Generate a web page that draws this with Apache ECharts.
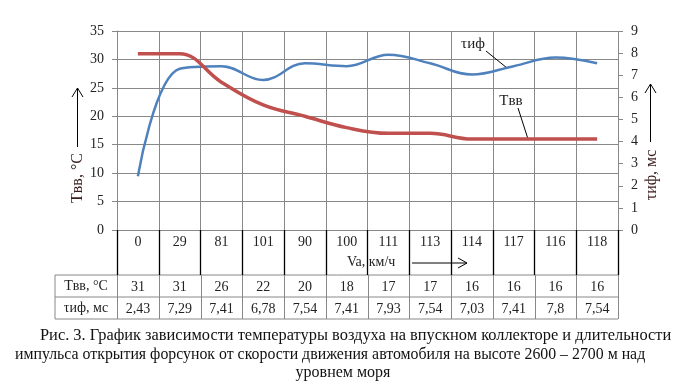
<!DOCTYPE html>
<html><head><meta charset="utf-8">
<script src="https://cdn.jsdelivr.net/npm/echarts@6/dist/echarts.min.js"></script>
<style>html,body{margin:0;padding:0;background:#fff}#c{width:687px;height:384px}</style>
</head><body><div id="c"></div>
<script>
const categories = ['0','29','81','101','90','100','111','113','114','117','116','118'];
const tempValues = [31,31,26,22,20,18,17,17,16,16,16,16];
const pulseValues = [2.43,7.29,7.41,6.78,7.54,7.41,7.93,7.54,7.03,7.41,7.8,7.54];
const leftTicks = [0,5,10,15,20,25,30,35];
const rightTicks = [0,1,2,3,4,5,6,7,8,9];
const rowHeaders = ['Tвв, °C','τиф, мс'];
const captionLines = [
  'Рис. 3. График зависимости температуры воздуха на впускном коллекторе и длительности',
  'импульса открытия форсунок от скорости движения автомобиля на высоте 2600 – 2700 м над',
  'уровнем моря'
];

const FONT = '"Liberation Serif", "DejaVu Serif", serif';
const chart = echarts.init(document.getElementById('c'));
const option = {
  animation: false,
  backgroundColor: '#fff',
  grid: { left: 117, top: 31, width: 501, height: 199 },
  xAxis: {
    type: 'category', data: categories, boundaryGap: true,
    axisLine: { show: true, lineStyle: { color: '#888', width: 1 } },
    axisTick: { show: true, interval: 0, length: 45, lineStyle: { color: '#000', width: 1.3 } },
    axisLabel: { interval: 0, margin: 5, fontFamily: FONT, fontSize: 14, color: '#222' },
    splitLine: { show: true, interval: 0, lineStyle: { color: '#888', width: 1 } }
  },
  yAxis: [
    { type: 'value', min: leftTicks[0], max: leftTicks[leftTicks.length-1], interval: 5,
      axisLine: { show: true, lineStyle: { color: '#888' } },
      axisTick: { show: true, length: 5, lineStyle: { color: '#888' } },
      axisLabel: { margin: 13, fontFamily: FONT, fontSize: 14, color: '#222' },
      splitLine: { show: true, lineStyle: { color: '#888', width: 1 } } },
    { type: 'value', min: rightTicks[0], max: rightTicks[rightTicks.length-1], interval: 1,
      position: 'right',
      axisLine: { show: false },
      axisTick: { show: true, length: 5, lineStyle: { color: '#888' } },
      axisLabel: { margin: 13, fontFamily: FONT, fontSize: 14, color: '#222' },
      splitLine: { show: false } }
  ],
  series: [
    { name: 'τиф', type: 'line', yAxisIndex: 1, data: pulseValues, smooth: 0.4,
      symbol: 'none', lineStyle: { color: '#4F81BD', width: 2.5 } },
    { name: 'Tвв', type: 'line', yAxisIndex: 0, data: tempValues, smooth: 0.4,
      symbol: 'none', lineStyle: { color: '#C0504D', width: 3.5 } }
  ]
};
chart.setOption(option);

// Build table & annotations from axis conversions
const centers = categories.map((c, i) => chart.convertToPixel({ xAxisIndex: 0 }, i));
const catW = centers.length > 1 ? centers[1] - centers[0] : 40;
const xLeft = centers[0] - catW / 2;
const xRight = centers[centers.length - 1] + catW / 2;
const yBase = chart.convertToPixel({ yAxisIndex: 0 }, 0);
const rowTop = yBase + 45, rowMid = rowTop + 22, rowBot = rowMid + 22;
const headLeft = 55;
const g = [];
const grey = { stroke: '#888', lineWidth: 1 };
// table borders
g.push({ type: 'line', shape: { x1: headLeft, y1: rowTop, x2: xRight, y2: rowTop }, style: grey });
g.push({ type: 'line', shape: { x1: headLeft, y1: rowMid, x2: xRight, y2: rowMid }, style: grey });
g.push({ type: 'line', shape: { x1: headLeft, y1: rowBot, x2: xRight, y2: rowBot }, style: grey });
g.push({ type: 'line', shape: { x1: headLeft, y1: rowTop, x2: headLeft, y2: rowBot }, style: grey });
for (let i = 0; i <= categories.length; i++) {
  const x = Math.round(xLeft + i * catW) + 0.5;
  g.push({ type: 'line', shape: { x1: x, y1: rowTop, x2: x, y2: rowBot }, style: grey });
}
const rows = [tempValues.map(String), pulseValues.map(v => String(v).replace('.', ','))];
rows.forEach((r, ri) => {
  const yc = ri === 0 ? (rowTop + rowMid) / 2 : (rowMid + rowBot) / 2;
  g.push({ type: 'text', x: (headLeft + xLeft) / 2, y: yc,
    style: { text: rowHeaders[ri], fontFamily: FONT, fontSize: 14, fill: '#222', align: 'center', verticalAlign: 'middle' } });
  r.forEach((t, i) => {
    g.push({ type: 'text', x: centers[i], y: yc + 1,
      style: { text: t, fontFamily: FONT, fontSize: 14, fill: '#222', align: 'center', verticalAlign: 'middle' } });
  });
});
// Va label
g.push({ type: 'rect', shape: { x: centers[5] - 8, y: yBase + 18, width: centers[8] + catW / 2 - centers[5] + 6, height: 26 },
  style: { fill: '#fff' } });
g.push({ type: 'text', x: 347, y: yBase + 32,
  style: { text: 'Va, км/ч', fontFamily: FONT, fontSize: 14, fill: '#222', align: 'left', verticalAlign: 'middle' } });
g.push({ type: 'line', shape: { x1: 412, y1: yBase + 33, x2: 467, y2: yBase + 33 }, style: { stroke: '#000', lineWidth: 1 } });
g.push({ type: 'polyline', shape: { points: [[458, yBase + 28], [467, yBase + 33], [458, yBase + 38]] }, style: { stroke: '#000', lineWidth: 1, fill: null } });
// Left axis name + arrow
g.push({ type: 'text', x: 78, y: 178, rotation: Math.PI / 2,
  style: { text: 'Tвв, °C', fontFamily: FONT, fontSize: 16, fill: '#3a1c1c', align: 'center', verticalAlign: 'middle' } });
g.push({ type: 'line', shape: { x1: 77.5, y1: 147, x2: 77.5, y2: 88 }, style: { stroke: '#000', lineWidth: 1 } });
g.push({ type: 'polyline', shape: { points: [[72, 97], [77.5, 88], [83, 97]] }, style: { stroke: '#000', lineWidth: 1, fill: null } });
// Right axis name + arrow
g.push({ type: 'text', x: 652, y: 175, rotation: Math.PI / 2,
  style: { text: 'τиф, мс', fontFamily: FONT, fontSize: 16, fill: '#3a1c1c', align: 'center', verticalAlign: 'middle' } });
g.push({ type: 'line', shape: { x1: 650.5, y1: 142, x2: 650.5, y2: 84 }, style: { stroke: '#000', lineWidth: 1 } });
g.push({ type: 'polyline', shape: { points: [[645, 93], [650.5, 84], [656, 93]] }, style: { stroke: '#000', lineWidth: 1, fill: null } });
// Series annotations
g.push({ type: 'text', x: 473, y: 44,
  style: { text: 'τиф', fontFamily: FONT, fontSize: 15, fill: '#222', align: 'center', verticalAlign: 'middle' } });
g.push({ type: 'line', shape: { x1: 486, y1: 51, x2: 507, y2: 68 }, style: { stroke: '#000', lineWidth: 1 } });
g.push({ type: 'text', x: 511, y: 101,
  style: { text: 'Tвв', fontFamily: FONT, fontSize: 15, fill: '#222', align: 'center', verticalAlign: 'middle' } });
g.push({ type: 'line', shape: { x1: 518, y1: 108, x2: 528, y2: 139 }, style: { stroke: '#000', lineWidth: 1 } });
// Caption
const capX = [40, 15, 343];
const capY = [336, 355, 373];
const capSize = [16.4, 15.85, 16];
const capAlign = ['left', 'left', 'center'];
captionLines.forEach((t, i) => {
  g.push({ type: 'text', x: capX[i], y: capY[i],
    style: { text: t, fontFamily: FONT, fontSize: capSize[i], fill: '#111', align: capAlign[i], verticalAlign: 'middle' } });
});
chart.setOption({ graphic: g });
</script></body></html>
